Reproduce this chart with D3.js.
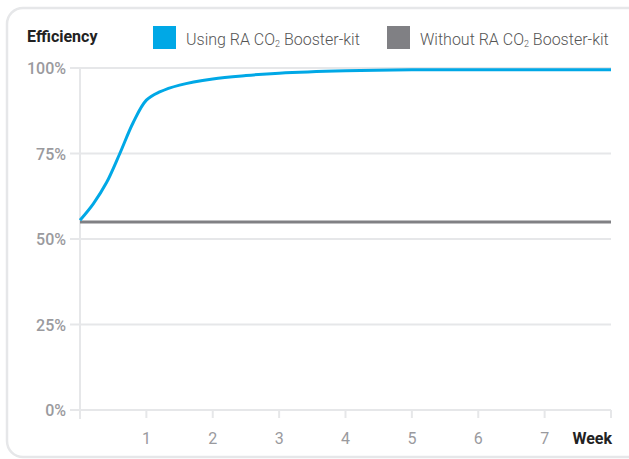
<!DOCTYPE html>
<html>
<head>
<meta charset="utf-8">
<script src="https://cdn.jsdelivr.net/npm/d3@7"></script>
<style>
  body { margin: 0; background: #fff; }
  svg { display: block; }
</style>
</head>
<body>
<svg></svg>
<script>
const width = 629;
const height = 459;

const weeks = [0, 0.2, 0.4, 0.6, 0.8, 1, 1.2, 1.5, 2, 2.5, 3, 4, 5, 6, 7, 8];
const withKit = [55.5, 60.3, 66.5, 75, 84, 90.6, 93, 95, 96.8, 97.8, 98.5, 99.2, 99.5, 99.5, 99.5, 99.5];
const withoutKit = [55, 55, 55, 55, 55, 55, 55, 55, 55, 55, 55, 55, 55, 55, 55, 55];
const yTicks = [0, 25, 50, 75, 100];
const xTicks = [1, 2, 3, 4, 5, 6, 7];
const seriesNames = ["Using RA CO", "Without RA CO"];
const colors = ["#00a8e6", "#808084"];

const svg = d3.select("svg")
    .attr("width", width)
    .attr("height", height);

// card outline
svg.append("rect")
    .attr("x", 7)
    .attr("y", 8)
    .attr("width", 640)
    .attr("height", 449)
    .attr("rx", 16)
    .attr("fill", "none")
    .attr("stroke", "#e6e7e9")
    .attr("stroke-width", 2.5);

const x = d3.scaleLinear().domain([0, 8]).range([80, 611]);
const y = d3.scaleLinear().domain([0, 100]).range([410, 68]);

// grid lines
svg.append("g")
    .selectAll("line")
    .data(yTicks)
    .enter().append("line")
    .attr("x1", 70)
    .attr("x2", x(8))
    .attr("y1", d => y(d))
    .attr("y2", d => y(d))
    .attr("stroke", "#e6e7e9")
    .attr("stroke-width", 2);

// y axis line
svg.append("line")
    .attr("x1", x(0)).attr("x2", x(0))
    .attr("y1", y(100)).attr("y2", 419)
    .attr("stroke", "#e6e7e9")
    .attr("stroke-width", 2);

// x tick marks
svg.append("g")
    .selectAll("line")
    .data(d3.range(1, 9))
    .enter().append("line")
    .attr("x1", d => x(d)).attr("x2", d => x(d))
    .attr("y1", y(0)).attr("y2", 418)
    .attr("stroke", "#e6e7e9")
    .attr("stroke-width", 2);

// y labels
svg.append("g")
    .selectAll("text")
    .data(yTicks)
    .enter().append("text")
    .attr("x", 66)
    .attr("y", d => y(d) + 6)
    .attr("text-anchor", "end")
    .attr("font-family", "Roboto, sans-serif")
    .attr("font-weight", 500)
    .attr("font-size", 16)
    .attr("fill", "#9a9a9e")
    .text(d => d + "%");

// x labels
svg.append("g")
    .selectAll("text")
    .data(xTicks)
    .enter().append("text")
    .attr("x", d => x(d))
    .attr("y", 444)
    .attr("text-anchor", "middle")
    .attr("font-family", "Roboto, sans-serif")
    .attr("font-size", 16)
    .attr("fill", "#9a9a9e")
    .text(d => d);

svg.append("text")
    .attr("x", x(8) + 1)
    .attr("y", 444)
    .attr("text-anchor", "end")
    .attr("font-family", "Roboto, sans-serif")
    .attr("font-weight", "bold")
    .attr("font-size", 16)
    .attr("fill", "#222")
    .text("Week");

svg.append("text")
    .attr("x", 27)
    .attr("y", 42)
    .attr("font-family", "Roboto, sans-serif")
    .attr("font-weight", "bold")
    .attr("font-size", 16)
    .attr("fill", "#222")
    .text("Efficiency");

// lines
const line = d3.line()
    .x((d, i) => x(weeks[i]))
    .y(d => y(d))
    .curve(d3.curveCatmullRom.alpha(0.5));

svg.append("path")
    .datum(withoutKit)
    .attr("d", line)
    .attr("fill", "none")
    .attr("stroke", colors[1])
    .attr("stroke-width", 3);

svg.append("path")
    .datum(withKit)
    .attr("d", line)
    .attr("fill", "none")
    .attr("stroke", colors[0])
    .attr("stroke-width", 3);

// legend
const legendX = [153, 387];
const legend = svg.append("g")
    .selectAll("g")
    .data(seriesNames)
    .enter().append("g")
    .attr("transform", (d, i) => `translate(${legendX[i]},26)`);

legend.append("rect")
    .attr("width", 23)
    .attr("height", 23)
    .attr("fill", (d, i) => colors[i]);

const lt = legend.append("text")
    .attr("x", 33)
    .attr("y", 19)
    .attr("font-family", "Roboto, sans-serif")
    .attr("font-weight", 300)
    .attr("font-size", 16)
    .attr("fill", "#555");
lt.append("tspan").text(d => d);
lt.append("tspan").attr("font-size", 9).attr("dy", 2).text("2");
lt.append("tspan").attr("dy", -2).text(" Booster-kit");
</script>
</body>
</html>
